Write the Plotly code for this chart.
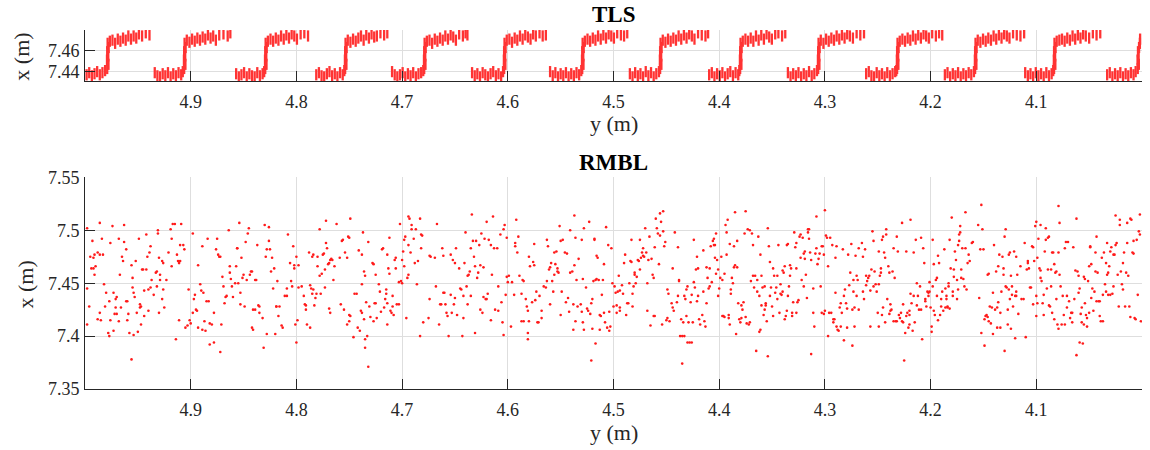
import plotly.graph_objects as go

# ---------------- data ----------------
x_ticks = [4.1, 4.2, 4.3, 4.4, 4.5, 4.6, 4.7, 4.8, 4.9]
x_tick_text = ["4.1", "4.2", "4.3", "4.4", "4.5", "4.6", "4.7", "4.8", "4.9"]
tls_ticks = [7.44, 7.46]
tls_tick_text = ["7.44", "7.46"]
rmbl_ticks = [7.35, 7.40, 7.45, 7.50, 7.55]
rmbl_tick_text = ["7.35", "7.4", "7.45", "7.5", "7.55"]

# TLS scan: horizontal position y (m), one row per step
tls_y = [
    4.9985, 4.9960, 4.9935, 4.9910, 4.9885, 4.9860, 4.9835, 4.9810,
    4.9790, 4.9778, 4.9792, 4.9780, 4.9790, 4.9776, 4.9786,
    4.9765, 4.9740, 4.9715, 4.9690, 4.9665, 4.9640, 4.9615, 4.9590, 4.9565, 4.9540, 4.9515, 4.9490, 4.9460, 4.9425, 4.9390,
    4.9340, 4.9315, 4.9290, 4.9265, 4.9240, 4.9215, 4.9190, 4.9165, 4.9140, 4.9115, 4.9090, 4.9075,
    4.9062, 4.9050, 4.9064, 4.9052, 4.9062, 4.9048, 4.9058,
    4.9037, 4.9012, 4.8987, 4.8962, 4.8937, 4.8912, 4.8887, 4.8862, 4.8837, 4.8812, 4.8787, 4.8762, 4.8730, 4.8690, 4.8650, 4.8625,
    4.8570, 4.8545, 4.8520, 4.8495, 4.8470, 4.8445, 4.8420, 4.8395, 4.8370, 4.8345, 4.8320, 4.8305,
    4.8295, 4.8283, 4.8297, 4.8285, 4.8295, 4.8281, 4.8291,
    4.8270, 4.8245, 4.8220, 4.8195, 4.8170, 4.8145, 4.8120, 4.8095, 4.8070, 4.8045, 4.8020, 4.7995, 4.7960, 4.7925, 4.7890,
    4.7812, 4.7787, 4.7762, 4.7737, 4.7712, 4.7687, 4.7662, 4.7637, 4.7612, 4.7587, 4.7562, 4.7547,
    4.7539, 4.7527, 4.7541, 4.7529, 4.7539, 4.7525, 4.7535,
    4.7514, 4.7489, 4.7464, 4.7439, 4.7414, 4.7389, 4.7364, 4.7339, 4.7314, 4.7289, 4.7264, 4.7239, 4.7205, 4.7170, 4.7140,
    4.7095, 4.7070, 4.7045, 4.7020, 4.6995, 4.6970, 4.6945, 4.6920, 4.6895, 4.6870, 4.6845, 4.6820, 4.6800,
    4.6791, 4.6779, 4.6793, 4.6781, 4.6791, 4.6777, 4.6787,
    4.6766, 4.6741, 4.6716, 4.6691, 4.6666, 4.6641, 4.6616, 4.6591, 4.6566, 4.6541, 4.6516, 4.6491, 4.6460, 4.6425, 4.6400, 4.6382,
    4.6338, 4.6313, 4.6288, 4.6263, 4.6238, 4.6213, 4.6188, 4.6163, 4.6138, 4.6113, 4.6088, 4.6063, 4.6045,
    4.6035, 4.6023, 4.6037, 4.6025, 4.6035, 4.6021, 4.6031,
    4.6010, 4.5985, 4.5960, 4.5935, 4.5910, 4.5885, 4.5860, 4.5835, 4.5810, 4.5785, 4.5760, 4.5735, 4.5700, 4.5670, 4.5640,
    4.5600, 4.5575, 4.5550, 4.5525, 4.5500, 4.5475, 4.5450, 4.5425, 4.5400, 4.5375, 4.5350, 4.5325, 4.5305,
    4.5296, 4.5284, 4.5298, 4.5286, 4.5296, 4.5282, 4.5292,
    4.5271, 4.5246, 4.5221, 4.5196, 4.5171, 4.5146, 4.5121, 4.5096, 4.5071, 4.5046, 4.5021, 4.4996, 4.4965, 4.4930, 4.4900, 4.4870,
    4.4845, 4.4820, 4.4795, 4.4770, 4.4745, 4.4720, 4.4695, 4.4670, 4.4645, 4.4620, 4.4595, 4.4570,
    4.4559, 4.4547, 4.4561, 4.4549, 4.4559, 4.4545, 4.4555,
    4.4534, 4.4509, 4.4484, 4.4459, 4.4434, 4.4409, 4.4384, 4.4359, 4.4334, 4.4309, 4.4284, 4.4259, 4.4234, 4.4200, 4.4165, 4.4130, 4.4105,
    4.4095, 4.4070, 4.4045, 4.4020, 4.3995, 4.3970, 4.3945, 4.3920, 4.3895, 4.3870, 4.3845, 4.3820, 4.3810,
    4.3802, 4.3790, 4.3804, 4.3792, 4.3802, 4.3788, 4.3798,
    4.3777, 4.3752, 4.3727, 4.3702, 4.3677, 4.3652, 4.3627, 4.3602, 4.3577, 4.3552, 4.3527, 4.3502, 4.3470, 4.3440, 4.3405, 4.3375,
    4.3350, 4.3325, 4.3300, 4.3275, 4.3250, 4.3225, 4.3200, 4.3175, 4.3150, 4.3125, 4.3100, 4.3075,
    4.3064, 4.3052, 4.3066, 4.3054, 4.3064, 4.3050, 4.3060,
    4.3039, 4.3014, 4.2989, 4.2964, 4.2939, 4.2914, 4.2889, 4.2864, 4.2839, 4.2814, 4.2789, 4.2764, 4.2735, 4.2700, 4.2665, 4.2630,
    4.2610, 4.2585, 4.2560, 4.2535, 4.2510, 4.2485, 4.2460, 4.2435, 4.2410, 4.2385, 4.2360, 4.2335, 4.2325,
    4.2317, 4.2305, 4.2319, 4.2307, 4.2317, 4.2303, 4.2313,
    4.2292, 4.2267, 4.2242, 4.2217, 4.2192, 4.2167, 4.2142, 4.2117, 4.2092, 4.2067, 4.2042, 4.2017, 4.1985, 4.1950, 4.1920, 4.1890,
    4.1865, 4.1840, 4.1815, 4.1790, 4.1765, 4.1740, 4.1715, 4.1690, 4.1665, 4.1640, 4.1615, 4.1590,
    4.1579, 4.1567, 4.1581, 4.1569, 4.1579, 4.1565, 4.1575,
    4.1554, 4.1529, 4.1504, 4.1479, 4.1454, 4.1429, 4.1404, 4.1379, 4.1354, 4.1329, 4.1304, 4.1279, 4.1254, 4.1220, 4.1185, 4.1150, 4.1115,
    4.1105, 4.1080, 4.1055, 4.1030, 4.1005, 4.0980, 4.0955, 4.0930, 4.0905, 4.0880, 4.0855, 4.0840,
    4.0832, 4.0820, 4.0834, 4.0822, 4.0832, 4.0818, 4.0828,
    4.0807, 4.0782, 4.0757, 4.0732, 4.0707, 4.0682, 4.0657, 4.0632, 4.0607, 4.0582, 4.0557, 4.0532, 4.0500, 4.0465, 4.0430, 4.0395,
    4.0330, 4.0305, 4.0280, 4.0255, 4.0230, 4.0205, 4.0180, 4.0155, 4.0130, 4.0105, 4.0080, 4.0060,
    4.0040, 4.0030, 4.0042, 4.0032, 4.0038, 4.0028, 4.0020, 4.0018,
]
# TLS scan: measured x (m), same order as tls_y
tls_x = [
    7.437, 7.439, 7.436, 7.438, 7.440, 7.437, 7.439, 7.441,
    7.443, 7.447, 7.451, 7.455, 7.459, 7.463, 7.467,
    7.469, 7.470, 7.467, 7.471, 7.469, 7.472, 7.470, 7.474, 7.471, 7.474, 7.472, 7.476, 7.474, 7.477, 7.475,
    7.439, 7.436, 7.435, 7.438, 7.436, 7.439, 7.435, 7.438, 7.436, 7.439, 7.437, 7.440,
    7.443, 7.447, 7.451, 7.455, 7.459, 7.463, 7.467,
    7.470, 7.468, 7.471, 7.469, 7.472, 7.470, 7.473, 7.471, 7.475, 7.472, 7.474, 7.470, 7.475, 7.476, 7.474, 7.477,
    7.438, 7.435, 7.437, 7.439, 7.435, 7.438, 7.436, 7.435, 7.439, 7.436, 7.438, 7.440,
    7.443, 7.447, 7.451, 7.455, 7.459, 7.463, 7.467,
    7.469, 7.471, 7.469, 7.472, 7.470, 7.474, 7.471, 7.475, 7.472, 7.476, 7.474, 7.471, 7.476, 7.477, 7.474,
    7.437, 7.439, 7.436, 7.435, 7.438, 7.440, 7.436, 7.438, 7.435, 7.439, 7.437, 7.441,
    7.443, 7.447, 7.451, 7.455, 7.459, 7.463, 7.467,
    7.470, 7.468, 7.471, 7.469, 7.472, 7.474, 7.470, 7.475, 7.472, 7.476, 7.473, 7.474, 7.477, 7.475, 7.477,
    7.440, 7.437, 7.435, 7.437, 7.439, 7.435, 7.438, 7.436, 7.439, 7.435, 7.438, 7.439, 7.441,
    7.443, 7.447, 7.451, 7.455, 7.459, 7.463, 7.467,
    7.469, 7.470, 7.467, 7.471, 7.469, 7.472, 7.470, 7.474, 7.471, 7.475, 7.473, 7.470, 7.476, 7.474, 7.477, 7.475,
    7.439, 7.436, 7.438, 7.435, 7.439, 7.437, 7.435, 7.438, 7.440, 7.436, 7.438, 7.435, 7.440,
    7.443, 7.447, 7.451, 7.455, 7.459, 7.463, 7.467,
    7.470, 7.471, 7.468, 7.472, 7.470, 7.474, 7.471, 7.475, 7.473, 7.471, 7.476, 7.474, 7.477, 7.474, 7.475,
    7.440, 7.436, 7.439, 7.435, 7.438, 7.436, 7.439, 7.435, 7.438, 7.436, 7.439, 7.437, 7.441,
    7.443, 7.447, 7.451, 7.455, 7.459, 7.463, 7.467,
    7.469, 7.471, 7.469, 7.472, 7.470, 7.474, 7.471, 7.475, 7.472, 7.476, 7.474, 7.472, 7.477, 7.475, 7.474, 7.477,
    7.438, 7.435, 7.439, 7.436, 7.438, 7.435, 7.440, 7.436, 7.439, 7.435, 7.438, 7.440,
    7.443, 7.447, 7.451, 7.455, 7.459, 7.463, 7.467,
    7.470, 7.468, 7.471, 7.469, 7.472, 7.470, 7.474, 7.471, 7.475, 7.472, 7.476, 7.474, 7.471, 7.477, 7.475, 7.474, 7.477,
    7.437, 7.439, 7.435, 7.438, 7.436, 7.439, 7.435, 7.438, 7.440, 7.436, 7.439, 7.437, 7.441,
    7.443, 7.447, 7.451, 7.455, 7.459, 7.463, 7.467,
    7.469, 7.471, 7.469, 7.472, 7.469, 7.474, 7.470, 7.475, 7.471, 7.476, 7.473, 7.471, 7.476, 7.477, 7.474, 7.477,
    7.439, 7.435, 7.438, 7.436, 7.439, 7.435, 7.438, 7.436, 7.440, 7.436, 7.438, 7.441,
    7.443, 7.447, 7.451, 7.455, 7.459, 7.463, 7.467,
    7.470, 7.467, 7.471, 7.469, 7.472, 7.470, 7.474, 7.471, 7.475, 7.472, 7.476, 7.474, 7.472, 7.477, 7.475, 7.477,
    7.438, 7.440, 7.436, 7.435, 7.439, 7.436, 7.438, 7.435, 7.439, 7.436, 7.438, 7.440, 7.441,
    7.443, 7.447, 7.451, 7.455, 7.459, 7.463, 7.467,
    7.469, 7.471, 7.469, 7.472, 7.470, 7.474, 7.471, 7.475, 7.472, 7.476, 7.474, 7.472, 7.477, 7.474, 7.477, 7.475,
    7.437, 7.439, 7.435, 7.438, 7.436, 7.439, 7.435, 7.438, 7.436, 7.439, 7.437, 7.440,
    7.443, 7.447, 7.451, 7.455, 7.459, 7.463, 7.467,
    7.470, 7.468, 7.471, 7.469, 7.472, 7.470, 7.474, 7.471, 7.475, 7.472, 7.476, 7.474, 7.472, 7.477, 7.475, 7.474, 7.477,
    7.439, 7.436, 7.438, 7.435, 7.439, 7.436, 7.438, 7.435, 7.439, 7.436, 7.438, 7.441,
    7.443, 7.447, 7.451, 7.455, 7.459, 7.463, 7.467,
    7.469, 7.470, 7.471, 7.469, 7.472, 7.470, 7.474, 7.471, 7.475, 7.472, 7.476, 7.474, 7.472, 7.477, 7.475, 7.477,
    7.437, 7.439, 7.435, 7.438, 7.436, 7.439, 7.435, 7.438, 7.436, 7.439, 7.437, 7.440,
    7.443, 7.447, 7.451, 7.455, 7.459, 7.463, 7.467, 7.471,
]

# RMBL scan: (y (m), x (m)) points, left to right
rmbl_points = [
    (4.998,7.502),(4.998,7.445),(4.998,7.411),(4.996,7.428),(4.995,7.475),(4.994,7.464),(4.993,7.490),(4.992,7.474),
    (4.992,7.464),(4.991,7.477),(4.990,7.466),(4.991,7.458),(4.988,7.479),(4.988,7.416),(4.986,7.507),(4.986,7.477),
    (4.986,7.422),(4.985,7.415),(4.984,7.492),(4.983,7.477),(4.982,7.449),(4.981,7.428),(4.980,7.441),(4.978,7.403),
    (4.977,7.400),(4.977,7.433),(4.976,7.488),(4.976,7.415),(4.974,7.504),(4.973,7.405),(4.973,7.441),(4.972,7.421),
    (4.971,7.435),(4.971,7.427),(4.970,7.437),(4.970,7.421),(4.968,7.414),(4.968,7.492),(4.967,7.458),(4.966,7.427),
    (4.965,7.475),(4.964,7.471),(4.963,7.505),(4.963,7.489),(4.961,7.482),(4.961,7.433),(4.960,7.415),(4.960,7.433),
    (4.959,7.421),(4.958,7.403),(4.956,7.467),(4.956,7.378),(4.955,7.455),(4.955,7.446),(4.954,7.401),(4.954,7.441),
    (4.953,7.437),(4.952,7.471),(4.951,7.422),(4.950,7.404),(4.949,7.492),(4.948,7.430),(4.948,7.427),(4.947,7.428),
    (4.947,7.411),(4.946,7.463),(4.945,7.463),(4.944,7.419),(4.944,7.443),(4.942,7.496),(4.942,7.463),(4.941,7.475),
    (4.940,7.444),(4.940,7.424),(4.939,7.479),(4.938,7.485),(4.938,7.446),(4.937,7.453),(4.935,7.439),(4.933,7.460),
    (4.932,7.447),(4.932,7.461),(4.931,7.500),(4.931,7.497),(4.930,7.422),(4.930,7.474),(4.929,7.458),(4.929,7.453),
    (4.927,7.471),(4.927,7.435),(4.926,7.444),(4.926,7.469),(4.925,7.427),(4.923,7.453),(4.921,7.479),(4.919,7.501),
    (4.918,7.466),(4.918,7.492),(4.917,7.506),(4.915,7.506),(4.914,7.397),(4.913,7.477),(4.912,7.471),(4.911,7.469),
    (4.911,7.415),(4.910,7.486),(4.910,7.471),(4.909,7.506),(4.907,7.486),(4.906,7.482),(4.905,7.408),(4.903,7.410),
    (4.902,7.444),(4.901,7.415),(4.900,7.412),(4.898,7.497),(4.898,7.422),(4.897,7.435),(4.896,7.439),(4.895,7.425),
    (4.894,7.424),(4.893,7.408),(4.893,7.467),(4.891,7.449),(4.890,7.443),(4.889,7.406),(4.889,7.485),(4.888,7.441),
    (4.887,7.414),(4.886,7.405),(4.885,7.433),(4.884,7.492),(4.883,7.433),(4.882,7.392),(4.882,7.412),(4.880,7.411),
    (4.878,7.394),(4.878,7.422),(4.876,7.482),(4.875,7.492),(4.874,7.477),(4.873,7.475),(4.872,7.475),(4.872,7.385),
    (4.871,7.411),(4.870,7.456),(4.869,7.447),(4.868,7.431),(4.867,7.437),(4.866,7.438),(4.864,7.500),(4.863,7.466),
    (4.863,7.460),(4.862,7.454),(4.861,7.447),(4.860,7.437),(4.858,7.450),(4.857,7.466),(4.856,7.483),(4.856,7.483),
    (4.855,7.450),(4.854,7.507),(4.853,7.430),(4.853,7.441),(4.852,7.474),(4.851,7.455),(4.850,7.458),(4.849,7.428),
    (4.848,7.489),(4.847,7.453),(4.846,7.497),(4.845,7.502),(4.844,7.458),(4.843,7.461),(4.842,7.408),(4.842,7.461),
    (4.841,7.406),(4.841,7.425),(4.839,7.425),(4.839,7.453),(4.838,7.453),(4.837,7.486),(4.836,7.429),(4.835,7.422),
    (4.835,7.428),(4.832,7.417),(4.831,7.389),(4.830,7.505),(4.829,7.475),(4.828,7.402),(4.828,7.482),(4.826,7.503),
    (4.826,7.490),(4.825,7.482),(4.824,7.461),(4.823,7.474),(4.822,7.445),(4.821,7.464),(4.820,7.402),(4.819,7.428),
    (4.819,7.428),(4.818,7.452),(4.817,7.419),(4.816,7.428),(4.814,7.410),(4.813,7.408),(4.811,7.438),(4.809,7.445),
    (4.809,7.438),(4.808,7.496),(4.806,7.469),(4.805,7.452),(4.804,7.447),(4.803,7.485),(4.802,7.467),(4.802,7.464),
    (4.801,7.411),(4.800,7.475),(4.800,7.394),(4.799,7.415),(4.798,7.446),(4.798,7.467),
    (4.795,7.447),(4.793,7.438),(4.792,7.430),(4.791,7.425),(4.791,7.429),(4.790,7.411),(4.788,7.479),(4.787,7.448),
    (4.787,7.408),(4.786,7.445),(4.785,7.475),(4.785,7.440),(4.784,7.477),(4.784,7.444),(4.783,7.429),(4.782,7.436),
    (4.781,7.440),(4.780,7.466),(4.780,7.475),(4.778,7.457),(4.778,7.501),(4.777,7.440),(4.776,7.459),(4.775,7.477),
    (4.774,7.478),(4.773,7.446),(4.773,7.463),(4.772,7.488),(4.772,7.509),(4.771,7.483),(4.770,7.468),(4.769,7.469),
    (4.769,7.426),(4.768,7.422),(4.768,7.472),(4.767,7.473),(4.766,7.472),(4.765,7.453),(4.764,7.466),(4.762,7.506),
    (4.759,7.474),(4.758,7.430),(4.757,7.490),(4.756,7.491),(4.755,7.425),(4.754,7.479),(4.752,7.474),(4.751,7.494),
    (4.750,7.493),(4.750,7.420),(4.749,7.419),(4.752,7.411),(4.750,7.414),(4.749,7.511),(4.746,7.399),(4.745,7.440),
    (4.743,7.440),(4.742,7.408),(4.741,7.481),(4.740,7.405),(4.739,7.424),(4.738,7.422),(4.738,7.449),(4.738,7.477),
    (4.737,7.498),(4.736,7.416),(4.736,7.461),(4.735,7.457),(4.735,7.397),(4.735,7.389),(4.734,7.432),(4.733,7.400),
    (4.732,7.371),(4.732,7.489),(4.731,7.428),(4.730,7.418),(4.728,7.469),(4.727,7.414),(4.727,7.468),(4.726,7.431),
    (4.725,7.458),(4.725,7.431),(4.724,7.417),(4.722,7.449),(4.721,7.442),(4.720,7.423),(4.719,7.482),(4.718,7.483),
    (4.717,7.427),(4.716,7.435),(4.715,7.444),(4.715,7.440),(4.714,7.431),(4.714,7.411),(4.714,7.477),(4.713,7.464),
    (4.712,7.493),(4.712,7.459),(4.711,7.424),(4.710,7.422),(4.709,7.428),(4.709,7.438),(4.708,7.420),(4.707,7.472),
    (4.706,7.474),(4.706,7.464),(4.705,7.430),(4.703,7.430),(4.703,7.451),(4.702,7.506),(4.701,7.452),(4.700,7.472),
    (4.700,7.450),(4.699,7.480),(4.698,7.466),(4.698,7.491),(4.697,7.494),(4.696,7.417),(4.695,7.455),(4.694,7.486),
    (4.694,7.458),(4.694,7.513),(4.693,7.511),(4.692,7.479),(4.691,7.501),(4.691,7.505),(4.689,7.492),(4.688,7.469),
    (4.687,7.501),(4.686,7.449),(4.685,7.471),(4.683,7.511),(4.683,7.400),(4.682,7.483),(4.682,7.496),(4.681,7.495),
    (4.680,7.413),(4.675,7.417),(4.674,7.476),(4.674,7.435),(4.673,7.475),(4.669,7.474),(4.668,7.447),(4.667,7.506),
    (4.665,7.411),(4.664,7.430),(4.663,7.430),(4.662,7.483),(4.661,7.476),(4.661,7.441),(4.660,7.441),(4.659,7.430),
    (4.658,7.422),(4.657,7.419),(4.656,7.400),(4.654,7.477),(4.654,7.439),(4.653,7.422),(4.652,7.472),(4.651,7.430),
    (4.650,7.469),(4.650,7.436),(4.649,7.483),(4.648,7.420),(4.646,7.464),(4.645,7.445),(4.644,7.444),(4.643,7.400),
    (4.642,7.438),(4.642,7.417),(4.641,7.469),(4.640,7.498),(4.639,7.447),(4.638,7.430),(4.638,7.457),(4.637,7.458),
    (4.636,7.461),(4.635,7.438),(4.635,7.483),(4.634,7.515),(4.633,7.490),(4.632,7.475),(4.631,7.466),(4.631,7.403),
    (4.630,7.490),(4.629,7.455),(4.628,7.460),(4.627,7.486),(4.626,7.467),(4.626,7.425),(4.625,7.497),(4.624,7.422),
    (4.623,7.465),(4.623,7.437),(4.622,7.492),(4.621,7.435),(4.620,7.435),(4.620,7.508),(4.619,7.440),(4.618,7.491),
    (4.616,7.486),(4.616,7.415),(4.615,7.458),(4.614,7.513),(4.613,7.483),(4.612,7.425),(4.610,7.483),(4.609,7.447),
    (4.609,7.424),(4.607,7.496),(4.606,7.432),(4.605,7.413),(4.604,7.501),(4.604,7.401),(4.603,7.505),(4.602,7.439),
    (4.601,7.456),(4.601,7.493),(4.600,7.451),(4.599,7.457),(4.597,7.409),(4.596,7.451),(4.594,7.439),(4.593,7.485),
    (4.593,7.488),(4.592,7.510),(4.591,7.479),(4.590,7.494),(4.589,7.457),(4.587,7.414),(4.587,7.440),(4.586,7.453),
    (4.585,7.452),(4.585,7.414),(4.583,7.435),(4.582,7.428),(4.581,7.424),(4.581,7.403),(4.581,7.397),(4.580,7.414),
    (4.580,7.475),(4.579,7.466),(4.577,7.432),(4.576,7.470),(4.575,7.467),(4.575,7.487),(4.574,7.434),(4.573,7.442),
    (4.572,7.413),(4.571,7.413),(4.570,7.438),(4.568,7.417),(4.568,7.424),(4.566,7.447),(4.564,7.446),(4.563,7.452),
    (4.563,7.491),(4.562,7.485),(4.561,7.463),(4.560,7.430),(4.560,7.465),(4.559,7.469),(4.558,7.452),(4.557,7.442),
    (4.556,7.479),(4.556,7.458),(4.555,7.468),(4.554,7.480),(4.553,7.464),(4.553,7.461),(4.552,7.460),(4.551,7.504),
    (4.550,7.420),(4.550,7.490),(4.549,7.442),(4.548,7.491),(4.546,7.479),(4.545,7.432),(4.544,7.478),(4.543,7.436),
    (4.542,7.423),(4.541,7.500),(4.541,7.460),(4.539,7.461),(4.538,7.430),(4.538,7.406),(4.537,7.514),(4.537,7.467),
    (4.536,7.493),(4.536,7.414),(4.535,7.453),(4.534,7.428),(4.533,7.473),
    (4.531,7.430),(4.530,7.423),(4.529,7.413),(4.530,7.491),(4.529,7.454),(4.528,7.502),(4.528,7.406),(4.526,7.446),
    (4.525,7.426),(4.524,7.424),(4.523,7.508),(4.522,7.421),(4.521,7.377),(4.521,7.431),(4.520,7.435),(4.520,7.407),
    (4.519,7.452),(4.518,7.492),(4.518,7.491),(4.517,7.453),(4.517,7.393),(4.516,7.476),(4.516,7.454),(4.515,7.474),
    (4.514,7.453),(4.513,7.420),(4.513,7.406),(4.512,7.419),(4.511,7.439),(4.510,7.453),(4.509,7.468),(4.509,7.422),
    (4.508,7.413),(4.507,7.503),(4.506,7.408),(4.505,7.486),(4.504,7.423),(4.504,7.405),(4.503,7.409),(4.502,7.483),
    (4.501,7.450),(4.500,7.428),(4.499,7.447),(4.498,7.441),(4.497,7.429),(4.497,7.422),(4.496,7.442),(4.495,7.457),
    (4.494,7.424),(4.494,7.427),(4.494,7.443),(4.492,7.448),(4.491,7.440),(4.490,7.469),(4.489,7.477),(4.488,7.420),
    (4.487,7.431),(4.486,7.431),(4.485,7.450),(4.484,7.471),(4.483,7.470),(4.483,7.491),(4.482,7.440),(4.482,7.428),
    (4.481,7.447),(4.480,7.458),(4.480,7.460),(4.479,7.450),(4.478,7.456),(4.477,7.472),(4.476,7.471),(4.475,7.463),
    (4.475,7.491),(4.474,7.474),(4.473,7.479),(4.472,7.483),(4.472,7.476),(4.471,7.475),(4.470,7.502),(4.469,7.479),
    (4.468,7.450),(4.468,7.424),(4.467,7.472),(4.466,7.494),(4.465,7.410),(4.464,7.473),(4.463,7.458),(4.462,7.419),
    (4.462,7.455),(4.461,7.484),(4.461,7.419),(4.460,7.511),(4.459,7.502),(4.458,7.497),(4.457,7.468),(4.456,7.495),
    (4.456,7.516),(4.455,7.508),(4.454,7.411),(4.453,7.499),(4.453,7.518),(4.452,7.485),(4.451,7.489),(4.450,7.415),
    (4.449,7.444),(4.449,7.417),(4.448,7.440),(4.447,7.414),(4.445,7.431),(4.444,7.464),(4.444,7.427),(4.443,7.424),
    (4.442,7.498),(4.440,7.432),(4.439,7.484),(4.439,7.438),(4.438,7.453),(4.438,7.452),(4.437,7.400),(4.436,7.416),
    (4.435,7.374),(4.435,7.400),(4.434,7.413),(4.433,7.438),(4.433,7.400),(4.432,7.435),(4.431,7.444),(4.431,7.419),
    (4.430,7.447),(4.430,7.394),(4.429,7.413),(4.428,7.394),(4.427,7.432),(4.426,7.394),(4.426,7.439),(4.425,7.413),
    (4.424,7.491),(4.424,7.451),(4.423,7.446),(4.422,7.463),(4.421,7.433),(4.421,7.475),(4.420,7.438),(4.420,7.464),
    (4.419,7.416),(4.418,7.411),(4.416,7.420),(4.415,7.481),(4.415,7.442),(4.414,7.414),(4.413,7.409),(4.412,7.465),
    (4.412,7.431),(4.411,7.455),(4.410,7.445),(4.409,7.464),(4.409,7.447),(4.408,7.485),(4.407,7.451),(4.406,7.490),
    (4.405,7.492),(4.405,7.486),(4.404,7.474),(4.404,7.486),(4.403,7.497),(4.403,7.459),(4.402,7.472),(4.401,7.463),
    (4.401,7.438),(4.400,7.445),(4.399,7.455),(4.398,7.475),(4.397,7.419),(4.397,7.453),(4.396,7.419),(4.395,7.418),
    (4.395,7.459),(4.394,7.505),(4.393,7.477),(4.393,7.498),(4.392,7.510),(4.391,7.420),(4.391,7.417),(4.390,7.487),
    (4.390,7.411),(4.389,7.444),(4.389,7.440),(4.388,7.455),(4.387,7.450),(4.386,7.465),(4.386,7.485),(4.385,7.467),
    (4.385,7.517),(4.384,7.402),(4.383,7.465),(4.383,7.490),(4.382,7.431),(4.381,7.416),(4.380,7.413),(4.379,7.417),
    (4.379,7.429),(4.378,7.425),(4.377,7.432),(4.376,7.497),(4.375,7.518),(4.375,7.418),(4.374,7.412),(4.373,7.501),
    (4.372,7.411),(4.371,7.413),(4.371,7.500),(4.370,7.452),(4.369,7.497),(4.368,7.457),(4.368,7.486),(4.367,7.446),
    (4.366,7.457),(4.365,7.386),(4.364,7.442),(4.364,7.453),(4.363,7.494),(4.362,7.438),(4.362,7.404),(4.361,7.406),
    (4.361,7.477),(4.360,7.429),(4.360,7.457),(4.359,7.446),(4.358,7.420),(4.357,7.425),(4.357,7.447),(4.356,7.429),
    (4.356,7.431),(4.355,7.414),(4.354,7.381),(4.354,7.502),(4.353,7.485),(4.352,7.438),(4.352,7.470),(4.351,7.446),
    (4.350,7.428),(4.349,7.419),(4.349,7.464),(4.348,7.457),(4.347,7.441),(4.346,7.446),(4.345,7.435),(4.345,7.457),
    (4.344,7.486),(4.343,7.422),(4.342,7.449),(4.342,7.440),(4.341,7.439),(4.340,7.442),(4.340,7.462),(4.339,7.460),
    (4.338,7.416),(4.338,7.466),(4.337,7.419),(4.336,7.424),(4.336,7.486),(4.335,7.438),(4.335,7.487),(4.334,7.447),
    (4.333,7.457),(4.333,7.467),(4.332,7.464),(4.331,7.419),(4.331,7.422),(4.330,7.432),(4.329,7.498),(4.328,7.484),
    (4.327,7.488),(4.327,7.464),(4.327,7.422),(4.326,7.432),(4.325,7.434),(4.324,7.494),(4.323,7.474),(4.323,7.496),
    (4.322,7.453),(4.321,7.493),(4.320,7.478),(4.320,7.447),(4.319,7.480),(4.319,7.473),(4.318,7.458),(4.317,7.436),
    (4.316,7.501),(4.316,7.498),(4.315,7.501),(4.315,7.492),(4.314,7.479),(4.313,7.383),(4.313,7.472),(4.311,7.422),
    (4.311,7.445),(4.310,7.409),(4.309,7.478),(4.308,7.483),(4.308,7.513),(4.307,7.468),(4.306,7.473),(4.305,7.478),
    (4.304,7.447),(4.303,7.485),(4.303,7.422),(4.302,7.485),(4.301,7.421),(4.301,7.477),(4.300,7.519),(4.300,7.424),
    (4.299,7.495),(4.298,7.493),(4.297,7.466),(4.297,7.400),(4.296,7.422),(4.295,7.493),(4.294,7.422),(4.293,7.486),
    (4.292,7.416),(4.292,7.413),(4.291,7.416),(4.290,7.474),(4.290,7.441),(4.289,7.485),(4.289,7.409),(4.288,7.406),
    (4.287,7.405),(4.286,7.427),(4.285,7.409),(4.285,7.431),(4.284,7.422),(4.283,7.482),(4.282,7.438),(4.282,7.396),
    (4.281,7.444),(4.280,7.431),(4.279,7.408),(4.279,7.426),(4.278,7.477),(4.277,7.448),(4.276,7.460),(4.275,7.487),
    (4.274,7.391),(4.274,7.425),(4.273,7.453),(4.273,7.442),(4.272,7.427),(4.272,7.409),(4.271,7.476),(4.270,7.457),
    (4.270,7.438),(4.269,7.453),(4.268,7.483),(4.268,7.425),
    (4.265,7.488),(4.264,7.475),(4.264,7.442),(4.263,7.435),(4.262,7.482),(4.261,7.448),(4.261,7.457),(4.260,7.452),
    (4.259,7.455),(4.258,7.457),(4.257,7.443),(4.257,7.409),(4.256,7.463),(4.255,7.499),(4.254,7.490),(4.254,7.447),
    (4.253,7.461),(4.252,7.449),(4.251,7.442),(4.250,7.422),(4.249,7.409),(4.249,7.449),(4.249,7.480),(4.248,7.457),
    (4.247,7.464),(4.247,7.460),(4.246,7.420),(4.246,7.491),(4.245,7.427),(4.245,7.494),(4.244,7.479),(4.243,7.413),
    (4.243,7.474),(4.242,7.501),(4.242,7.496),(4.241,7.435),(4.240,7.466),(4.239,7.460),(4.239,7.421),(4.238,7.430),
    (4.238,7.424),(4.237,7.425),(4.236,7.461),(4.235,7.483),(4.235,7.414),(4.234,7.455),(4.233,7.414),(4.232,7.414),
    (4.232,7.494),(4.231,7.480),(4.230,7.420),(4.229,7.417),(4.228,7.422),(4.227,7.414),(4.227,7.507),(4.226,7.430),
    (4.226,7.413),(4.225,7.377),(4.224,7.403),(4.223,7.419),(4.223,7.480),(4.222,7.422),(4.221,7.408),(4.220,7.424),
    (4.220,7.420),(4.220,7.411),(4.219,7.510),(4.219,7.440),(4.218,7.431),(4.217,7.405),(4.216,7.479),(4.216,7.438),
    (4.215,7.413),(4.214,7.491),(4.213,7.450),(4.213,7.429),(4.212,7.438),(4.211,7.425),(4.210,7.447),(4.209,7.425),
    (4.209,7.493),(4.208,7.397),(4.207,7.483),(4.206,7.469),(4.205,7.435),(4.205,7.433),(4.204,7.428),(4.203,7.442),
    (4.202,7.441),(4.202,7.438),(4.201,7.451),(4.201,7.442),(4.200,7.427),(4.199,7.404),(4.199,7.409),(4.198,7.491),
    (4.198,7.447),(4.197,7.468),(4.197,7.424),(4.196,7.420),(4.195,7.453),(4.194,7.455),(4.194,7.438),(4.193,7.415),
    (4.193,7.476),(4.192,7.469),(4.191,7.420),(4.190,7.435),(4.190,7.428),(4.189,7.442),(4.188,7.424),(4.187,7.482),
    (4.186,7.427),(4.186,7.445),(4.185,7.438),(4.185,7.435),(4.184,7.427),(4.184,7.428),(4.183,7.450),(4.183,7.447),
    (4.182,7.426),(4.182,7.491),(4.181,7.464),(4.180,7.512),(4.179,7.438),(4.179,7.442),(4.178,7.463),(4.178,7.456),
    (4.177,7.480),(4.176,7.472),(4.175,7.435),(4.175,7.453),(4.174,7.444),(4.174,7.486),(4.173,7.490),(4.173,7.496),
    (4.172,7.498),(4.172,7.504),(4.171,7.463),(4.171,7.455),(4.170,7.483),(4.169,7.454),(4.168,7.447),(4.167,7.483),
    (4.167,7.517),(4.166,7.444),(4.165,7.469),(4.164,7.477),(4.163,7.471),(4.161,7.488),(4.160,7.489),(4.155,7.505),
    (4.154,7.436),(4.153,7.482),(4.152,7.524),(4.152,7.403),(4.151,7.501),(4.150,7.482),(4.149,7.391),(4.149,7.416),
    (4.148,7.419),(4.147,7.420),(4.146,7.458),(4.146,7.418),(4.145,7.414),(4.145,7.459),(4.144,7.428),(4.143,7.412),
    (4.142,7.427),(4.141,7.402),(4.141,7.441),(4.140,7.486),(4.139,7.425),(4.138,7.461),(4.137,7.427),(4.137,7.408),
    (4.136,7.432),(4.136,7.466),(4.135,7.477),(4.134,7.408),(4.134,7.422),(4.133,7.442),(4.132,7.475),(4.131,7.458),
    (4.131,7.464),(4.130,7.494),(4.130,7.386),(4.129,7.501),(4.129,7.447),(4.128,7.446),(4.127,7.425),(4.127,7.411),
    (4.126,7.444),(4.126,7.477),(4.125,7.435),(4.125,7.479),(4.124,7.407),(4.124,7.457),(4.123,7.439),(4.123,7.447),
    (4.122,7.428),(4.121,7.480),(4.120,7.398),(4.120,7.438),(4.119,7.438),(4.119,7.475),(4.119,7.442),(4.118,7.458),
    (4.117,7.421),(4.115,7.466),(4.114,7.435),(4.112,7.435),(4.111,7.488),(4.110,7.399),(4.109,7.463),(4.108,7.471),
    (4.108,7.469),(4.107,7.464),(4.106,7.446),(4.105,7.446),(4.104,7.485),(4.103,7.430),(4.103,7.484),(4.102,7.471),
    (4.101,7.504),(4.100,7.438),(4.100,7.508),(4.100,7.419),(4.099,7.431),(4.099,7.474),(4.098,7.492),(4.097,7.464),
    (4.096,7.505),(4.096,7.462),(4.096,7.455),(4.095,7.452),(4.094,7.431),(4.093,7.439),(4.093,7.420),(4.092,7.480),
    (4.091,7.502),(4.091,7.491),(4.090,7.445),(4.089,7.493),(4.089,7.463),(4.088,7.429),(4.088,7.494),(4.087,7.428),
    (4.086,7.463),(4.086,7.447),(4.085,7.479),(4.085,7.422),(4.084,7.479),(4.083,7.468),(4.083,7.416),(4.082,7.460),
    (4.081,7.435),(4.081,7.461),(4.080,7.411),(4.079,7.407),(4.079,7.479),(4.079,7.523),(4.078,7.458),(4.078,7.507),
    (4.077,7.447),(4.076,7.411),(4.075,7.438),(4.074,7.420),(4.073,7.411),(4.073,7.483),(4.072,7.489),(4.071,7.438),
    (4.071,7.427),(4.070,7.489),(4.069,7.433),(4.068,7.417),(4.067,7.422),(4.066,7.413),(4.066,7.422),(4.065,7.484),
    (4.064,7.435),(4.063,7.462),(4.062,7.382),(4.062,7.511),(4.061,7.461),(4.060,7.441),(4.060,7.457),(4.059,7.445),
    (4.059,7.394),(4.058,7.421),(4.057,7.427),(4.057,7.413),(4.056,7.393),(4.055,7.456),(4.055,7.411),(4.054,7.431),
    (4.054,7.454),(4.053,7.420),(4.052,7.409),(4.052,7.417),(4.051,7.452),(4.050,7.422),(4.050,7.466),(4.049,7.485),
    (4.049,7.484),(4.048,7.468),(4.048,7.436),(4.047,7.445),(4.046,7.424),(4.045,7.442),(4.044,7.479),(4.044,7.461),
    (4.043,7.494),(4.043,7.433),(4.042,7.460),(4.041,7.433),(4.040,7.433),(4.040,7.419),(4.039,7.414),(4.038,7.474),
    (4.037,7.439),(4.037,7.414),(4.036,7.479),(4.035,7.449),(4.034,7.469),(4.034,7.442),(4.033,7.458),(4.033,7.488),
    (4.032,7.439),(4.032,7.460),(4.031,7.466),(4.030,7.480),(4.030,7.439),(4.029,7.484),(4.028,7.440),(4.027,7.477),
    (4.027,7.447),(4.026,7.477),(4.025,7.514),(4.025,7.486),(4.024,7.488),(4.023,7.458),(4.022,7.428),(4.021,7.510),
    (4.021,7.505),(4.020,7.461),(4.019,7.449),(4.018,7.444),(4.018,7.469),(4.017,7.479),(4.016,7.428),(4.015,7.460),
    (4.014,7.488),(4.014,7.507),(4.013,7.457),(4.012,7.428),(4.011,7.511),(4.011,7.418),(4.010,7.510),(4.009,7.479),
    (4.008,7.478),(4.008,7.490),(4.007,7.417),(4.006,7.416),(4.005,7.491),(4.004,7.439),(4.003,7.499),(4.002,7.496),
    (4.002,7.515),(4.001,7.414),
]
rmbl_y = [p[0] for p in rmbl_points]
rmbl_x = [p[1] for p in rmbl_points]

# ---------------- styling ----------------
FONT = "Liberation Serif"
AX = "#262626"
GRID = "#dedede"
TLS_RED = "#ff3333"
RMBL_RED = "#ff1a1a"

n_tls = min(len(tls_y), len(tls_x))

fig = go.Figure()
fig.add_trace(go.Scatter(
    x=tls_y[:n_tls], y=tls_x[:n_tls], mode="markers", xaxis="x", yaxis="y",
    marker=dict(symbol="line-ns", size=8, color=TLS_RED,
                line=dict(width=2.3, color=TLS_RED)),
    showlegend=False, hoverinfo="skip"))
fig.add_trace(go.Scatter(
    x=rmbl_y, y=rmbl_x, mode="markers", xaxis="x2", yaxis="y2",
    marker=dict(symbol="circle", size=2.6, color=RMBL_RED, line=dict(width=0)),
    showlegend=False, hoverinfo="skip"))

common = dict(showline=True, linecolor=AX, linewidth=1, mirror=False,
              ticks="inside", ticklen=10, tickwidth=1, tickcolor=AX,
              showgrid=True, gridcolor=GRID, gridwidth=1, zeroline=False,
              tickfont=dict(family=FONT, size=18, color=AX))

W, H = 1150, 450
top_dom = [0.858, 1.0]
bot_dom = [0.0, 0.5894]

fig.update_layout(
    width=W, height=H,
    margin=dict(l=85, r=8, t=30, b=61, autoexpand=False),
    paper_bgcolor="white", plot_bgcolor="white",
    showlegend=False,
    font=dict(family=FONT, color=AX),
    xaxis=dict(common, domain=[0, 1], anchor="y", range=[5.0, 4.0],
               tickmode="array", tickvals=x_ticks, ticktext=x_tick_text,
               ticklabelstandoff=4),
    yaxis=dict(common, domain=top_dom, anchor="x", range=[7.4311, 7.4797],
               tickmode="array", tickvals=tls_ticks, ticktext=tls_tick_text,
               ticklabelstandoff=1),
    xaxis2=dict(common, domain=[0, 1], anchor="y2", range=[5.0, 4.0],
                tickmode="array", tickvals=x_ticks, ticktext=x_tick_text,
                ticklabelstandoff=4),
    yaxis2=dict(common, domain=bot_dom, anchor="x2", range=[7.35, 7.55],
                tickmode="array", tickvals=rmbl_ticks, ticktext=rmbl_tick_text,
                ticklabelstandoff=1),
)

lab_font = dict(family=FONT, size=22, color=AX)
title_font = dict(family=FONT, size=23, color="black")
annotations = [
    dict(text="<b>TLS</b>", x=0.5, y=1.0445, font=title_font),
    dict(text="<b>RMBL</b>", x=0.5, y=0.6298, font=title_font),
    dict(text="y\u00a0(m)", x=0.5, y=0.7384, font=lab_font),
    dict(text="y\u00a0(m)", x=0.5, y=-0.1216, font=lab_font),
    dict(text="x\u00a0(m)", x=-0.0599, y=0.9249, font=lab_font, textangle=-90),
    dict(text="x\u00a0(m)", x=-0.0561, y=0.2903, font=lab_font, textangle=-90),
]
for a in annotations:
    fig.add_annotation(xref="paper", yref="paper", showarrow=False,
                       xanchor="center", yanchor="middle", **a)

# remove the default 8 px page margin so the figure sits at the window origin
fig.write_html("out.html",
               config={"displayModeBar": False, "staticPlot": True},
               post_script="document.body.style.margin='0px';"
                           "document.body.style.overflow='hidden';")
